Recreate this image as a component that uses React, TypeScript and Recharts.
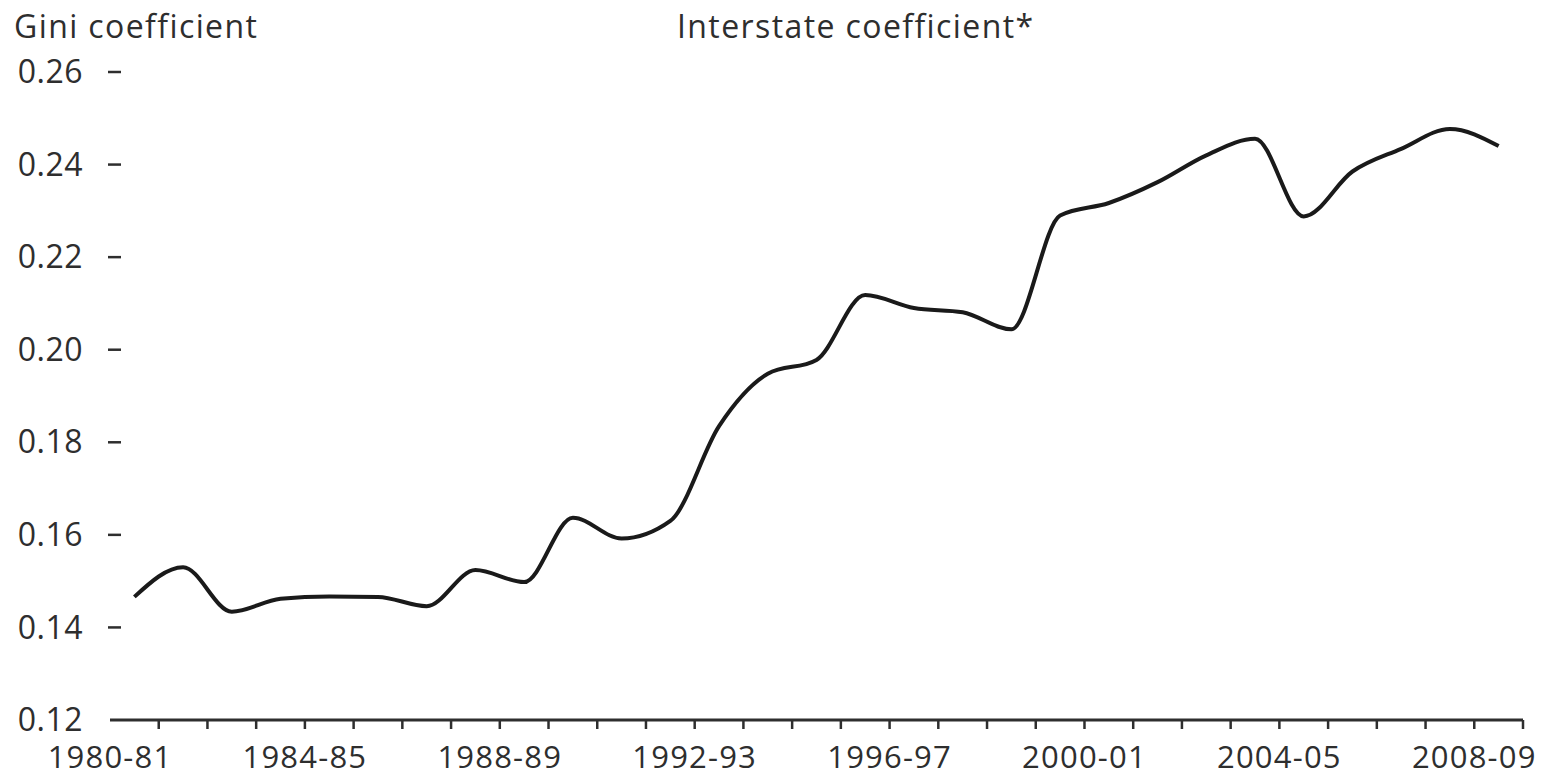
import React from "react";
import { LineChart, Line, XAxis, YAxis } from "recharts";

// Fiscal years plotted (band centres)
const years = [
  "1980-81", "1981-82", "1982-83", "1983-84", "1984-85", "1985-86",
  "1986-87", "1987-88", "1988-89", "1989-90", "1990-91", "1991-92",
  "1992-93", "1993-94", "1994-95", "1995-96", "1996-97", "1997-98",
  "1998-99", "1999-00", "2000-01", "2001-02", "2002-03", "2003-04",
  "2004-05", "2005-06", "2006-07", "2007-08", "2008-09",
];

const interstate = [
  0.1466, 0.153, 0.1434, 0.1462, 0.1467, 0.1466, 0.1446, 0.1524, 0.1498,
  0.1637, 0.1592, 0.163, 0.1835, 0.1948, 0.1978, 0.2118, 0.209, 0.2081,
  0.2044, 0.229, 0.2317, 0.2362, 0.242, 0.2456, 0.2288, 0.2385, 0.2434,
  0.2477, 0.244,
];

const yTicks = [0.12, 0.14, 0.16, 0.18, 0.2, 0.22, 0.24, 0.26];
const xTicks = Array.from({ length: years.length + 1 }, (_, i) => i);

const FONT = "'Open Sans', 'Noto Sans', sans-serif";
const TEXT = "#2e2e2e";

const data = years.map((year, i) => ({ x: i + 0.5, year, value: interstate[i] }));

const YTick = (props: any) => {
  const { x, y, payload } = props;
  return (
    <g>
      <text
        x={x - 27}
        y={y}
        dy="0.35em"
        textAnchor="end"
        fontSize={32}
        fontFamily={FONT}
        fill={TEXT}
        letterSpacing={0.5}
      >
        {payload.value.toFixed(2)}
      </text>
      {payload.value > 0.12 && (
        <line x1={x - 2} x2={x + 11} y1={y} y2={y} stroke={TEXT} strokeWidth={2.5} />
      )}
    </g>
  );
};

const XTick = (props: any) => {
  const { x, y, payload } = props;
  const i = payload.value as number;
  const label = i % 4 === 0 && i < years.length ? years[i] : null;
  return (
    <g>
      {i > 0 && <line x1={x} x2={x} y1={y} y2={y + 9} stroke={TEXT} strokeWidth={2.5} />}
      {label && (
        <text
          x={x}
          y={y + 48}
          textAnchor="middle"
          fontSize={31}
          fontFamily={FONT}
          fill={TEXT}
          letterSpacing={1.2}
        >
          {label}
        </text>
      )}
    </g>
  );
};

const titleStyle: React.CSSProperties = {
  position: "absolute",
  top: 4,
  fontFamily: FONT,
  fontSize: 32,
  color: TEXT,
  letterSpacing: 1.4,
  whiteSpace: "nowrap",
};

export default function App() {
  return (
    <div style={{ position: "absolute", left: 0, top: 0, width: 1556, height: 776, background: "#fff" }}>
      <div style={{ ...titleStyle, left: 14 }}>Gini coefficient</div>
      <div style={{ ...titleStyle, left: 677 }}>Interstate coefficient*</div>
      <LineChart
        width={1556}
        height={776}
        data={data}
        margin={{ top: 72, right: 33, bottom: 0, left: 0 }}
      >
        <XAxis
          dataKey="x"
          type="number"
          domain={[0, years.length]}
          ticks={xTicks}
          interval={0}
          height={56}
          tickSize={0}
          tickMargin={0}
          tickLine={false}
          axisLine={{ stroke: TEXT, strokeWidth: 3 }}
          tick={<XTick />}
        />
        <YAxis
          type="number"
          domain={[0.12, 0.26]}
          ticks={yTicks}
          interval={0}
          width={110}
          tickSize={0}
          tickMargin={0}
          tickLine={false}
          axisLine={false}
          tick={<YTick />}
        />
        <Line
          type="monotone"
          dataKey="value"
          stroke="#1a1a1a"
          strokeWidth={4}
          dot={false}
          isAnimationActive={false}
        />
      </LineChart>
    </div>
  );
}
